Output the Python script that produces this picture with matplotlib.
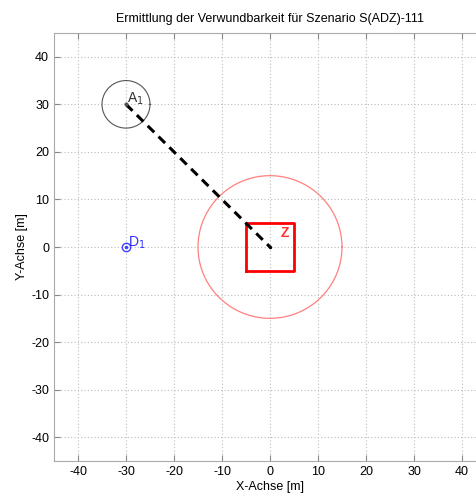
import matplotlib
matplotlib.use("Agg")
import matplotlib.pyplot as plt
import numpy as np

# Data
attacker = (-30, 30)
attacker_radius = 5
defender = (-30, 0)
target = (0, 0)
target_half = 5
target_radius = 15
xticks = [-40, -30, -20, -10, 0, 10, 20, 30, 40]
yticks = [-40, -30, -20, -10, 0, 10, 20, 30, 40]

plt.rcParams['font.family'] = ['Liberation Sans', 'DejaVu Sans']
plt.rcParams['axes.unicode_minus'] = False
fig = plt.figure(figsize=(4.76, 4.95), dpi=100)
ax = fig.add_axes([54/476, 34/495, 432/476, 428/495])
ax.set_xlim(-45, 45)
ax.set_ylim(-45, 45)
ax.set_xticks(xticks)
ax.set_yticks(yticks)
ax.grid(True, linestyle=(0, (1, 2)), color='#bbbbbb', linewidth=0.8)
ax.tick_params(direction='in', length=4, colors='#888888', labelcolor='black', labelsize=9,
               top=True, right=True)
for s in ax.spines.values():
    s.set_color('#aaaaaa')

t = np.linspace(0, 2*np.pi, 300)
ax.plot(attacker[0] + attacker_radius*np.cos(t), attacker[1] + attacker_radius*np.sin(t), color='#555555', lw=0.8)
ax.plot(target[0] + target_radius*np.cos(t), target[1] + target_radius*np.sin(t), color='#ff8080', lw=0.9)
sq_x = [target[0]-target_half, target[0]+target_half, target[0]+target_half, target[0]-target_half, target[0]-target_half]
sq_y = [target[1]-target_half, target[1]-target_half, target[1]+target_half, target[1]+target_half, target[1]-target_half]
ax.plot(sq_x, sq_y, color='red', lw=2)
ax.plot([attacker[0], target[0]], [attacker[1], target[1]], color='black', lw=2.2, linestyle=(0, (3, 2)))
ax.plot(*attacker, marker='.', color='#555555', ms=4)
ax.plot(*target, marker='.', color='black', ms=3)
ax.plot(*defender, marker='o', mfc='none', mec='#4040ff', ms=6)
ax.plot(*defender, marker='.', color='#4040ff', ms=3)
ax.text(attacker[0]+0.3, attacker[1]+0.3, r'A$_1$', color='#333333', fontsize=10)
ax.text(defender[0]+0.4, defender[1]+0.0, r'D$_1$', color='#3030ff', fontsize=10)
ax.text(target[0]+2.3, target[1]+2.0, 'Z', color='#ff3030', fontsize=10, fontweight='bold')

ax.set_title('Ermittlung der Verwundbarkeit für Szenario S(ADZ)-111', fontsize=9, pad=8)
ax.set_xlabel('X-Achse [m]', fontsize=9, labelpad=2)
ax.set_ylabel('Y-Achse [m]', fontsize=9, labelpad=2)

fig.savefig('out.png', dpi=100)
